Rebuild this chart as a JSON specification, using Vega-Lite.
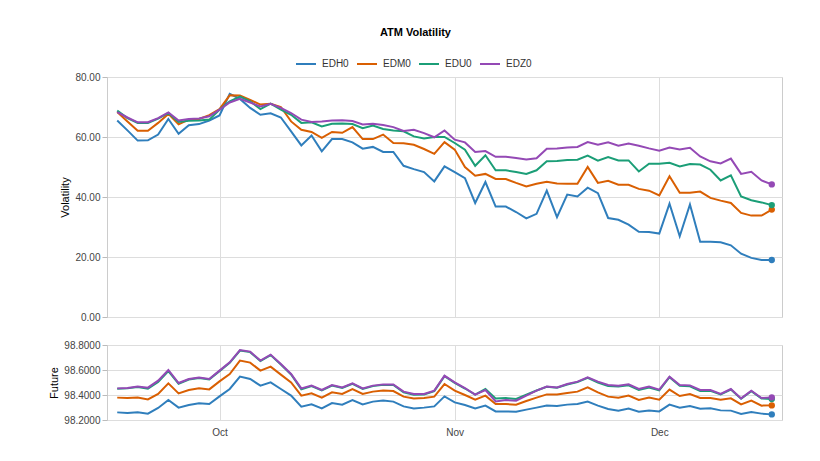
{
"$schema": "https://vega.github.io/schema/vega-lite/v6.json",
"padding": {"left": 48, "top": 27, "right": 33, "bottom": 5},
"title": {"text": "ATM Volatility", "fontSize": 11, "fontWeight": "bold", "font": "Liberation Sans", "color": "#000", "anchor": "middle", "offset": 15},
"data": {"values": [
{"d":"2019-09-17","s":"EDH0","v":65.5,"f":98.261},
{"d":"2019-09-18","s":"EDH0","v":62.2,"f":98.256},
{"d":"2019-09-19","s":"EDH0","v":58.8,"f":98.261},
{"d":"2019-09-20","s":"EDH0","v":58.9,"f":98.251},
{"d":"2019-09-23","s":"EDH0","v":60.8,"f":98.296},
{"d":"2019-09-24","s":"EDH0","v":66.0,"f":98.360},
{"d":"2019-09-25","s":"EDH0","v":61.1,"f":98.299},
{"d":"2019-09-26","s":"EDH0","v":63.9,"f":98.320},
{"d":"2019-09-27","s":"EDH0","v":64.3,"f":98.333},
{"d":"2019-09-30","s":"EDH0","v":65.5,"f":98.328},
{"d":"2019-10-01","s":"EDH0","v":67.2,"f":98.389},
{"d":"2019-10-02","s":"EDH0","v":74.4,"f":98.448},
{"d":"2019-10-03","s":"EDH0","v":72.7,"f":98.547},
{"d":"2019-10-04","s":"EDH0","v":69.7,"f":98.528},
{"d":"2019-10-07","s":"EDH0","v":67.4,"f":98.475},
{"d":"2019-10-08","s":"EDH0","v":67.9,"f":98.501},
{"d":"2019-10-09","s":"EDH0","v":66.5,"f":98.448},
{"d":"2019-10-10","s":"EDH0","v":61.9,"f":98.395},
{"d":"2019-10-11","s":"EDH0","v":57.2,"f":98.307},
{"d":"2019-10-14","s":"EDH0","v":60.5,"f":98.325},
{"d":"2019-10-15","s":"EDH0","v":55.2,"f":98.293},
{"d":"2019-10-16","s":"EDH0","v":59.3,"f":98.336},
{"d":"2019-10-17","s":"EDH0","v":59.3,"f":98.323},
{"d":"2019-10-18","s":"EDH0","v":58.2,"f":98.360},
{"d":"2019-10-21","s":"EDH0","v":56.1,"f":98.325},
{"d":"2019-10-22","s":"EDH0","v":56.7,"f":98.347},
{"d":"2019-10-23","s":"EDH0","v":55.0,"f":98.355},
{"d":"2019-10-24","s":"EDH0","v":55.0,"f":98.347},
{"d":"2019-10-25","s":"EDH0","v":50.4,"f":98.309},
{"d":"2019-10-28","s":"EDH0","v":49.3,"f":98.293},
{"d":"2019-10-29","s":"EDH0","v":48.3,"f":98.299},
{"d":"2019-10-30","s":"EDH0","v":45.2,"f":98.309},
{"d":"2019-10-31","s":"EDH0","v":50.2,"f":98.389},
{"d":"2019-11-01","s":"EDH0","v":48.3,"f":98.341},
{"d":"2019-11-04","s":"EDH0","v":46.3,"f":98.320},
{"d":"2019-11-05","s":"EDH0","v":38.0,"f":98.293},
{"d":"2019-11-06","s":"EDH0","v":45.0,"f":98.315},
{"d":"2019-11-07","s":"EDH0","v":36.8,"f":98.269},
{"d":"2019-11-08","s":"EDH0","v":36.8,"f":98.269},
{"d":"2019-11-11","s":"EDH0","v":35.0,"f":98.267},
{"d":"2019-11-12","s":"EDH0","v":32.9,"f":98.283},
{"d":"2019-11-13","s":"EDH0","v":34.4,"f":98.299},
{"d":"2019-11-14","s":"EDH0","v":42.1,"f":98.315},
{"d":"2019-11-15","s":"EDH0","v":33.3,"f":98.312},
{"d":"2019-11-18","s":"EDH0","v":40.8,"f":98.323},
{"d":"2019-11-19","s":"EDH0","v":40.2,"f":98.328},
{"d":"2019-11-20","s":"EDH0","v":43.1,"f":98.347},
{"d":"2019-11-21","s":"EDH0","v":41.3,"f":98.315},
{"d":"2019-11-22","s":"EDH0","v":33.0,"f":98.288},
{"d":"2019-11-25","s":"EDH0","v":32.4,"f":98.275},
{"d":"2019-11-26","s":"EDH0","v":30.8,"f":98.291},
{"d":"2019-11-27","s":"EDH0","v":28.4,"f":98.267},
{"d":"2019-11-29","s":"EDH0","v":28.3,"f":98.275},
{"d":"2019-12-02","s":"EDH0","v":27.8,"f":98.269},
{"d":"2019-12-03","s":"EDH0","v":37.8,"f":98.323},
{"d":"2019-12-04","s":"EDH0","v":26.9,"f":98.299},
{"d":"2019-12-05","s":"EDH0","v":37.5,"f":98.312},
{"d":"2019-12-06","s":"EDH0","v":25.1,"f":98.291},
{"d":"2019-12-09","s":"EDH0","v":25.1,"f":98.293},
{"d":"2019-12-10","s":"EDH0","v":24.9,"f":98.277},
{"d":"2019-12-11","s":"EDH0","v":23.9,"f":98.275},
{"d":"2019-12-12","s":"EDH0","v":21.1,"f":98.248},
{"d":"2019-12-13","s":"EDH0","v":19.7,"f":98.264},
{"d":"2019-12-16","s":"EDH0","v":19.0,"f":98.251},
{"d":"2019-12-17","s":"EDH0","v":19.0,"f":98.245},
{"d":"2019-09-17","s":"EDM0","v":68.3,"f":98.379},
{"d":"2019-09-18","s":"EDM0","v":65.2,"f":98.376},
{"d":"2019-09-19","s":"EDM0","v":62.1,"f":98.379},
{"d":"2019-09-20","s":"EDM0","v":62.1,"f":98.365},
{"d":"2019-09-23","s":"EDM0","v":64.7,"f":98.408},
{"d":"2019-09-24","s":"EDM0","v":67.7,"f":98.493},
{"d":"2019-09-25","s":"EDM0","v":64.2,"f":98.413},
{"d":"2019-09-26","s":"EDM0","v":65.8,"f":98.440},
{"d":"2019-09-27","s":"EDM0","v":66.0,"f":98.453},
{"d":"2019-09-30","s":"EDM0","v":67.3,"f":98.445},
{"d":"2019-10-01","s":"EDM0","v":69.3,"f":98.509},
{"d":"2019-10-02","s":"EDM0","v":73.9,"f":98.568},
{"d":"2019-10-03","s":"EDM0","v":73.8,"f":98.675},
{"d":"2019-10-04","s":"EDM0","v":72.4,"f":98.659},
{"d":"2019-10-07","s":"EDM0","v":70.8,"f":98.595},
{"d":"2019-10-08","s":"EDM0","v":71.1,"f":98.627},
{"d":"2019-10-09","s":"EDM0","v":70.0,"f":98.563},
{"d":"2019-10-10","s":"EDM0","v":65.2,"f":98.501},
{"d":"2019-10-11","s":"EDM0","v":62.4,"f":98.395},
{"d":"2019-10-14","s":"EDM0","v":61.7,"f":98.413},
{"d":"2019-10-15","s":"EDM0","v":59.7,"f":98.379},
{"d":"2019-10-16","s":"EDM0","v":61.7,"f":98.421},
{"d":"2019-10-17","s":"EDM0","v":61.4,"f":98.408},
{"d":"2019-10-18","s":"EDM0","v":63.3,"f":98.448},
{"d":"2019-10-21","s":"EDM0","v":59.3,"f":98.408},
{"d":"2019-10-22","s":"EDM0","v":59.3,"f":98.427},
{"d":"2019-10-23","s":"EDM0","v":60.8,"f":98.435},
{"d":"2019-10-24","s":"EDM0","v":58.0,"f":98.432},
{"d":"2019-10-25","s":"EDM0","v":57.9,"f":98.387},
{"d":"2019-10-28","s":"EDM0","v":57.4,"f":98.373},
{"d":"2019-10-29","s":"EDM0","v":56.0,"f":98.376},
{"d":"2019-10-30","s":"EDM0","v":54.4,"f":98.387},
{"d":"2019-10-31","s":"EDM0","v":58.3,"f":98.488},
{"d":"2019-11-01","s":"EDM0","v":55.8,"f":98.435},
{"d":"2019-11-04","s":"EDM0","v":50.0,"f":98.400},
{"d":"2019-11-05","s":"EDM0","v":47.1,"f":98.363},
{"d":"2019-11-06","s":"EDM0","v":47.7,"f":98.395},
{"d":"2019-11-07","s":"EDM0","v":46.0,"f":98.328},
{"d":"2019-11-08","s":"EDM0","v":46.0,"f":98.328},
{"d":"2019-11-11","s":"EDM0","v":44.7,"f":98.323},
{"d":"2019-11-12","s":"EDM0","v":43.5,"f":98.352},
{"d":"2019-11-13","s":"EDM0","v":44.4,"f":98.379},
{"d":"2019-11-14","s":"EDM0","v":45.1,"f":98.405},
{"d":"2019-11-15","s":"EDM0","v":44.5,"f":98.405},
{"d":"2019-11-18","s":"EDM0","v":44.4,"f":98.416},
{"d":"2019-11-19","s":"EDM0","v":44.4,"f":98.427},
{"d":"2019-11-20","s":"EDM0","v":50.0,"f":98.461},
{"d":"2019-11-21","s":"EDM0","v":44.7,"f":98.421},
{"d":"2019-11-22","s":"EDM0","v":45.4,"f":98.387},
{"d":"2019-11-25","s":"EDM0","v":44.1,"f":98.379},
{"d":"2019-11-26","s":"EDM0","v":44.1,"f":98.395},
{"d":"2019-11-27","s":"EDM0","v":42.7,"f":98.360},
{"d":"2019-11-29","s":"EDM0","v":42.1,"f":98.379},
{"d":"2019-12-02","s":"EDM0","v":40.5,"f":98.363},
{"d":"2019-12-03","s":"EDM0","v":46.9,"f":98.443},
{"d":"2019-12-04","s":"EDM0","v":41.4,"f":98.392},
{"d":"2019-12-05","s":"EDM0","v":41.4,"f":98.408},
{"d":"2019-12-06","s":"EDM0","v":41.8,"f":98.376},
{"d":"2019-12-09","s":"EDM0","v":39.7,"f":98.376},
{"d":"2019-12-10","s":"EDM0","v":38.8,"f":98.363},
{"d":"2019-12-11","s":"EDM0","v":38.0,"f":98.373},
{"d":"2019-12-12","s":"EDM0","v":34.7,"f":98.325},
{"d":"2019-12-13","s":"EDM0","v":33.8,"f":98.355},
{"d":"2019-12-16","s":"EDM0","v":33.8,"f":98.315},
{"d":"2019-12-17","s":"EDM0","v":35.8,"f":98.317},
{"d":"2019-09-17","s":"EDU0","v":68.8,"f":98.450},
{"d":"2019-09-18","s":"EDU0","v":66.3,"f":98.453},
{"d":"2019-09-19","s":"EDU0","v":64.7,"f":98.463},
{"d":"2019-09-20","s":"EDU0","v":64.7,"f":98.450},
{"d":"2019-09-23","s":"EDU0","v":66.1,"f":98.505},
{"d":"2019-09-24","s":"EDU0","v":68.0,"f":98.592},
{"d":"2019-09-25","s":"EDU0","v":65.0,"f":98.490},
{"d":"2019-09-26","s":"EDU0","v":65.4,"f":98.524},
{"d":"2019-09-27","s":"EDU0","v":65.5,"f":98.535},
{"d":"2019-09-30","s":"EDU0","v":65.8,"f":98.525},
{"d":"2019-10-01","s":"EDU0","v":69.1,"f":98.591},
{"d":"2019-10-02","s":"EDU0","v":71.9,"f":98.657},
{"d":"2019-10-03","s":"EDU0","v":73.5,"f":98.756},
{"d":"2019-10-04","s":"EDU0","v":71.9,"f":98.743},
{"d":"2019-10-07","s":"EDU0","v":69.3,"f":98.671},
{"d":"2019-10-08","s":"EDU0","v":71.1,"f":98.719},
{"d":"2019-10-09","s":"EDU0","v":69.1,"f":98.644},
{"d":"2019-10-10","s":"EDU0","v":67.4,"f":98.564},
{"d":"2019-10-11","s":"EDU0","v":64.7,"f":98.445},
{"d":"2019-10-14","s":"EDU0","v":64.9,"f":98.471},
{"d":"2019-10-15","s":"EDU0","v":63.5,"f":98.436},
{"d":"2019-10-16","s":"EDU0","v":64.4,"f":98.476},
{"d":"2019-10-17","s":"EDU0","v":64.5,"f":98.457},
{"d":"2019-10-18","s":"EDU0","v":64.3,"f":98.489},
{"d":"2019-10-21","s":"EDU0","v":62.9,"f":98.449},
{"d":"2019-10-22","s":"EDU0","v":63.8,"f":98.471},
{"d":"2019-10-23","s":"EDU0","v":62.7,"f":98.481},
{"d":"2019-10-24","s":"EDU0","v":62.2,"f":98.481},
{"d":"2019-10-25","s":"EDU0","v":61.9,"f":98.422},
{"d":"2019-10-28","s":"EDU0","v":60.2,"f":98.403},
{"d":"2019-10-29","s":"EDU0","v":59.5,"f":98.404},
{"d":"2019-10-30","s":"EDU0","v":60.0,"f":98.431},
{"d":"2019-10-31","s":"EDU0","v":60.0,"f":98.551},
{"d":"2019-11-01","s":"EDU0","v":58.0,"f":98.497},
{"d":"2019-11-04","s":"EDU0","v":55.8,"f":98.452},
{"d":"2019-11-05","s":"EDU0","v":50.4,"f":98.403},
{"d":"2019-11-06","s":"EDU0","v":53.9,"f":98.448},
{"d":"2019-11-07","s":"EDU0","v":48.9,"f":98.373},
{"d":"2019-11-08","s":"EDU0","v":48.9,"f":98.376},
{"d":"2019-11-11","s":"EDU0","v":48.3,"f":98.368},
{"d":"2019-11-12","s":"EDU0","v":47.7,"f":98.402},
{"d":"2019-11-13","s":"EDU0","v":48.9,"f":98.436},
{"d":"2019-11-14","s":"EDU0","v":51.9,"f":98.465},
{"d":"2019-11-15","s":"EDU0","v":52.0,"f":98.458},
{"d":"2019-11-18","s":"EDU0","v":52.3,"f":98.484},
{"d":"2019-11-19","s":"EDU0","v":52.4,"f":98.503},
{"d":"2019-11-20","s":"EDU0","v":53.8,"f":98.537},
{"d":"2019-11-21","s":"EDU0","v":52.1,"f":98.500},
{"d":"2019-11-22","s":"EDU0","v":53.3,"f":98.472},
{"d":"2019-11-25","s":"EDU0","v":52.2,"f":98.468},
{"d":"2019-11-26","s":"EDU0","v":52.2,"f":98.478},
{"d":"2019-11-27","s":"EDU0","v":48.5,"f":98.440},
{"d":"2019-11-29","s":"EDU0","v":51.1,"f":98.460},
{"d":"2019-12-02","s":"EDU0","v":51.1,"f":98.438},
{"d":"2019-12-03","s":"EDU0","v":51.4,"f":98.542},
{"d":"2019-12-04","s":"EDU0","v":50.2,"f":98.474},
{"d":"2019-12-05","s":"EDU0","v":51.0,"f":98.470},
{"d":"2019-12-06","s":"EDU0","v":50.8,"f":98.432},
{"d":"2019-12-09","s":"EDU0","v":49.1,"f":98.434},
{"d":"2019-12-10","s":"EDU0","v":45.5,"f":98.405},
{"d":"2019-12-11","s":"EDU0","v":47.2,"f":98.444},
{"d":"2019-12-12","s":"EDU0","v":40.2,"f":98.370},
{"d":"2019-12-13","s":"EDU0","v":38.9,"f":98.430},
{"d":"2019-12-16","s":"EDU0","v":38.2,"f":98.372},
{"d":"2019-12-17","s":"EDU0","v":37.3,"f":98.368},
{"d":"2019-09-17","s":"EDZ0","v":68.3,"f":98.453},
{"d":"2019-09-18","s":"EDZ0","v":66.5,"f":98.456},
{"d":"2019-09-19","s":"EDZ0","v":64.9,"f":98.467},
{"d":"2019-09-20","s":"EDZ0","v":64.9,"f":98.459},
{"d":"2019-09-23","s":"EDZ0","v":66.3,"f":98.515},
{"d":"2019-09-24","s":"EDZ0","v":68.2,"f":98.600},
{"d":"2019-09-25","s":"EDZ0","v":65.5,"f":98.496},
{"d":"2019-09-26","s":"EDZ0","v":66.0,"f":98.528},
{"d":"2019-09-27","s":"EDZ0","v":66.2,"f":98.539},
{"d":"2019-09-30","s":"EDZ0","v":66.9,"f":98.528},
{"d":"2019-10-01","s":"EDZ0","v":69.1,"f":98.595},
{"d":"2019-10-02","s":"EDZ0","v":71.5,"f":98.661},
{"d":"2019-10-03","s":"EDZ0","v":72.7,"f":98.760},
{"d":"2019-10-04","s":"EDZ0","v":71.5,"f":98.747},
{"d":"2019-10-07","s":"EDZ0","v":70.2,"f":98.675},
{"d":"2019-10-08","s":"EDZ0","v":71.1,"f":98.723},
{"d":"2019-10-09","s":"EDZ0","v":69.7,"f":98.648},
{"d":"2019-10-10","s":"EDZ0","v":68.0,"f":98.568},
{"d":"2019-10-11","s":"EDZ0","v":65.8,"f":98.453},
{"d":"2019-10-14","s":"EDZ0","v":65.0,"f":98.475},
{"d":"2019-10-15","s":"EDZ0","v":65.2,"f":98.440},
{"d":"2019-10-16","s":"EDZ0","v":65.5,"f":98.480},
{"d":"2019-10-17","s":"EDZ0","v":65.6,"f":98.461},
{"d":"2019-10-18","s":"EDZ0","v":65.3,"f":98.493},
{"d":"2019-10-21","s":"EDZ0","v":64.2,"f":98.453},
{"d":"2019-10-22","s":"EDZ0","v":64.4,"f":98.475},
{"d":"2019-10-23","s":"EDZ0","v":64.0,"f":98.485},
{"d":"2019-10-24","s":"EDZ0","v":63.3,"f":98.485},
{"d":"2019-10-25","s":"EDZ0","v":62.0,"f":98.427},
{"d":"2019-10-28","s":"EDZ0","v":62.4,"f":98.408},
{"d":"2019-10-29","s":"EDZ0","v":61.3,"f":98.408},
{"d":"2019-10-30","s":"EDZ0","v":59.9,"f":98.435},
{"d":"2019-10-31","s":"EDZ0","v":62.2,"f":98.555},
{"d":"2019-11-01","s":"EDZ0","v":59.1,"f":98.501},
{"d":"2019-11-04","s":"EDZ0","v":58.2,"f":98.456},
{"d":"2019-11-05","s":"EDZ0","v":55.0,"f":98.403},
{"d":"2019-11-06","s":"EDZ0","v":55.3,"f":98.440},
{"d":"2019-11-07","s":"EDZ0","v":53.4,"f":98.349},
{"d":"2019-11-08","s":"EDZ0","v":53.4,"f":98.360},
{"d":"2019-11-11","s":"EDZ0","v":53.0,"f":98.355},
{"d":"2019-11-12","s":"EDZ0","v":52.5,"f":98.395},
{"d":"2019-11-13","s":"EDZ0","v":52.9,"f":98.435},
{"d":"2019-11-14","s":"EDZ0","v":56.1,"f":98.467},
{"d":"2019-11-15","s":"EDZ0","v":56.2,"f":98.461},
{"d":"2019-11-18","s":"EDZ0","v":56.5,"f":98.488},
{"d":"2019-11-19","s":"EDZ0","v":56.7,"f":98.507},
{"d":"2019-11-20","s":"EDZ0","v":58.3,"f":98.541},
{"d":"2019-11-21","s":"EDZ0","v":57.4,"f":98.507},
{"d":"2019-11-22","s":"EDZ0","v":58.2,"f":98.480},
{"d":"2019-11-25","s":"EDZ0","v":57.1,"f":98.475},
{"d":"2019-11-26","s":"EDZ0","v":57.8,"f":98.485},
{"d":"2019-11-27","s":"EDZ0","v":57.1,"f":98.448},
{"d":"2019-11-29","s":"EDZ0","v":56.2,"f":98.467},
{"d":"2019-12-02","s":"EDZ0","v":55.4,"f":98.443},
{"d":"2019-12-03","s":"EDZ0","v":56.5,"f":98.547},
{"d":"2019-12-04","s":"EDZ0","v":55.8,"f":98.480},
{"d":"2019-12-05","s":"EDZ0","v":56.4,"f":98.477},
{"d":"2019-12-06","s":"EDZ0","v":53.5,"f":98.440},
{"d":"2019-12-09","s":"EDZ0","v":51.9,"f":98.440},
{"d":"2019-12-10","s":"EDZ0","v":51.2,"f":98.408},
{"d":"2019-12-11","s":"EDZ0","v":52.8,"f":98.448},
{"d":"2019-12-12","s":"EDZ0","v":47.7,"f":98.373},
{"d":"2019-12-13","s":"EDZ0","v":48.4,"f":98.435},
{"d":"2019-12-16","s":"EDZ0","v":45.5,"f":98.376},
{"d":"2019-12-17","s":"EDZ0","v":44.2,"f":98.381}
]},
"spacing": 16,
"vconcat": [
{
 "width": 675, "height": 240,
 "encoding": {
  "x": {"field": "d", "type": "ordinal", "scale": {"type": "point", "padding": 1},
        "axis": {"values": ["2019-10-01", "2019-11-01", "2019-12-02"], "labels": false, "ticks": false, "domain": false, "title": null, "grid": true}},
  "y": {"field": "v", "type": "quantitative", "scale": {"domain": [0, 80]},
        "axis": {"values": [0, 20, 40, 60, 80], "format": ".2f", "title": "Volatility"}},
  "color": {"field": "s", "type": "nominal", "title": null,
            "scale": {"domain": ["EDH0", "EDM0", "EDU0", "EDZ0"], "range": ["#2f7ebc", "#d95f02", "#1b9e77", "#9449b5"]},
            "legend": {"orient": "none", "direction": "horizontal", "legendX": 188, "legendY": -24}}
 },
 "layer": [
  {"mark": {"type": "line", "strokeWidth": 2}},
  {"transform": [{"filter": "datum.d == '2019-12-17'"}], "mark": {"type": "circle", "size": 40, "opacity": 1}}
 ]
},
{
 "width": 675, "height": 75,
 "encoding": {
  "x": {"field": "d", "type": "ordinal", "scale": {"type": "point", "padding": 1},
        "axis": {"values": ["2019-10-01", "2019-11-01", "2019-12-02"], "ticks": false, "domain": false, "title": null, "grid": true, "labelAngle": 0, "labelPadding": 7,
                 "labelExpr": "datum.value == '2019-10-01' ? 'Oct' : datum.value == '2019-11-01' ? 'Nov' : 'Dec'"}},
  "y": {"field": "f", "type": "quantitative", "scale": {"domain": [98.2, 98.8]},
        "axis": {"values": [98.2, 98.4, 98.6, 98.8], "format": ".4f", "title": "Future"}},
  "color": {"field": "s", "type": "nominal", "title": null,
            "scale": {"domain": ["EDH0", "EDM0", "EDU0", "EDZ0"], "range": ["#2f7ebc", "#d95f02", "#1b9e77", "#9449b5"]}}
 },
 "layer": [
  {"mark": {"type": "line", "strokeWidth": 2}},
  {"transform": [{"filter": "datum.d == '2019-12-17'"}], "mark": {"type": "circle", "size": 40, "opacity": 1}}
 ]
}
],
"config": {
 "font": "Liberation Sans",
 "view": {"stroke": "#cccccc"},
 "axis": {"gridColor": "#dddddd", "domain": false, "labelFont": "Liberation Sans", "labelFontSize": 10, "labelColor": "#444444",
          "titleFont": "Liberation Sans", "titleFontSize": 11, "titleFontWeight": "normal", "titleColor": "#000000",
          "tickColor": "#bbbbbb", "tickSize": 5, "labelPadding": 2},
 "legend": {"symbolType": "stroke", "symbolStrokeWidth": 2, "symbolSize": 400, "labelFont": "Liberation Sans", "labelFontSize": 10, "labelColor": "#333333", "columnPadding": 4, "labelOffset": 5}
}
}
